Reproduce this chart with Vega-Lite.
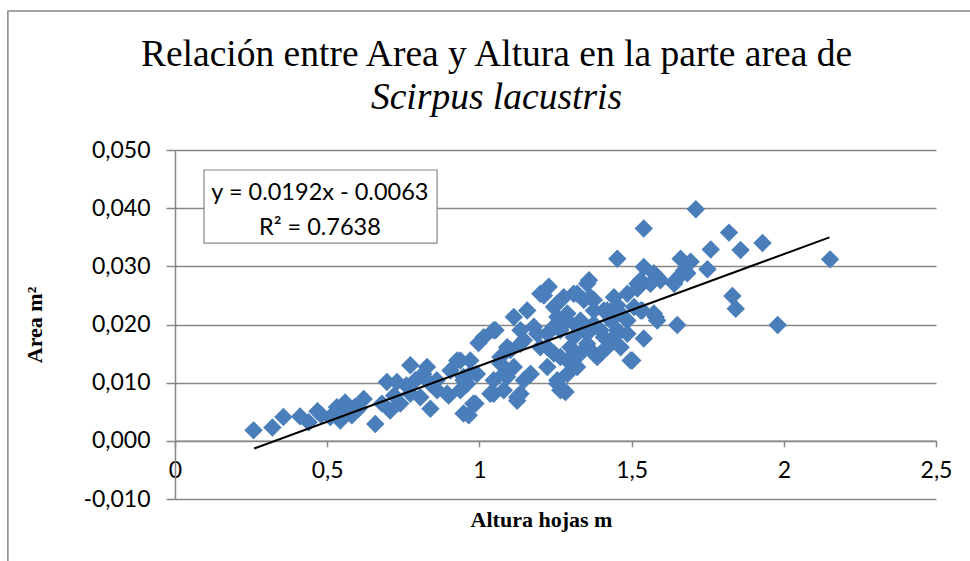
{
  "$schema": "https://vega.github.io/schema/vega-lite/v6.json",
  "width": 761,
  "height": 349,
  "autosize": "none",
  "padding": {"left": 175, "top": 150, "right": 34, "bottom": 62},
  "background": "white",
  "config": {
    "locale": {"number": {"decimal": ",", "thousands": ".", "grouping": [3], "currency": ["", " €"], "minus": "-"}},
    "view": {"stroke": null},
    "axis": {"labelFont": "Lato", "labelFontSize": 23, "labelColor": "#000000", "titleFont": "Liberation Serif", "titleFontSize": 22, "titleFontWeight": "bold", "titleColor": "#000000", "domainColor": "#878787", "tickColor": "#878787", "gridColor": "#878787", "domainWidth": 1.5, "tickWidth": 1.5, "gridWidth": 1.5}
  },
  "title": {
    "text": "Relación entre Area y Altura en la parte area de",
    "subtitle": "Scirpus lacustris",
    "font": "Liberation Serif",
    "fontSize": 37.5,
    "fontWeight": "normal",
    "color": "#000000",
    "subtitleFont": "serif",
    "subtitleFontSize": 37.5,
    "subtitleFontStyle": "italic",
    "subtitleFontWeight": "normal",
    "subtitleColor": "#000000",
    "subtitlePadding": 5,
    "anchor": "middle",
    "frame": "group",
    "dx": -59,
    "offset": -106
  },
  "datasets": {
    "pts": [
      {"h":0.258,"a":0.0018},{"h":0.32,"a":0.0023},{"h":0.356,"a":0.0041},{"h":0.411,"a":0.0042},{"h":0.439,"a":0.0032},{"h":0.468,"a":0.0051},{"h":0.51,"a":0.0041},{"h":0.532,"a":0.0058},{"h":0.559,"a":0.0066},{"h":0.543,"a":0.0035},{"h":0.581,"a":0.0044},{"h":0.62,"a":0.0072},{"h":0.603,"a":0.0055},{"h":0.658,"a":0.0029},{"h":0.68,"a":0.0064},{"h":0.696,"a":0.0101},{"h":0.729,"a":0.0101},{"h":0.707,"a":0.0052},{"h":0.74,"a":0.0064},{"h":0.773,"a":0.013},{"h":0.79,"a":0.0104},{"h":0.828,"a":0.0127},{"h":0.839,"a":0.0098},{"h":0.773,"a":0.0081},{"h":0.806,"a":0.0075},{"h":0.839,"a":0.0055},{"h":0.861,"a":0.0087},{"h":0.899,"a":0.0078},{"h":0.927,"a":0.0138},{"h":0.948,"a":0.0104},{"h":0.97,"a":0.0115},{"h":0.9375,"a":0.0087},{"h":0.965,"a":0.0044},{"h":0.987,"a":0.0064},{"h":0.997,"a":0.0168},
      {"h":0.48,"a":0.0045},{"h":0.57,"a":0.0052},{"h":0.72,"a":0.0078},{"h":0.59,"a":0.0058},{"h":0.86,"a":0.0104},{"h":0.815,"a":0.0115},{"h":0.76,"a":0.0095},
      {"h":1.228,"a":0.0265},{"h":1.212,"a":0.025},{"h":1.157,"a":0.0224},{"h":1.113,"a":0.0213},{"h":1.053,"a":0.019},{"h":1.014,"a":0.0178},{"h":1.256,"a":0.0236},{"h":1.277,"a":0.0247},{"h":0.97,"a":0.0138},{"h":0.992,"a":0.0115},{"h":0.96,"a":0.0098},{"h":0.948,"a":0.0047},{"h":0.98,"a":0.0064},{"h":1.047,"a":0.0081},{"h":1.08,"a":0.0115},{"h":1.124,"a":0.0069},{"h":1.135,"a":0.0081},{"h":1.168,"a":0.0115},{"h":1.069,"a":0.0144},{"h":1.102,"a":0.0156},{"h":1.146,"a":0.0173},{"h":1.19,"a":0.0184},{"h":1.244,"a":0.0196},{"h":1.256,"a":0.0104},{"h":1.277,"a":0.0087},{"h":1.223,"a":0.0161},{"h":1.266,"a":0.0144},
      {"h":1.2,"a":0.0253},{"h":1.354,"a":0.027},{"h":1.321,"a":0.0253},{"h":1.365,"a":0.0247},{"h":1.442,"a":0.0247},{"h":1.486,"a":0.0253},{"h":1.519,"a":0.027},{"h":1.245,"a":0.023},{"h":1.256,"a":0.0213},{"h":1.289,"a":0.0219},{"h":1.332,"a":0.0207},{"h":1.376,"a":0.0224},{"h":1.42,"a":0.0224},{"h":1.464,"a":0.0219},{"h":1.508,"a":0.023},{"h":1.047,"a":0.019},{"h":1.135,"a":0.019},{"h":1.179,"a":0.0196},{"h":1.223,"a":0.0184},{"h":1.266,"a":0.019},{"h":1.31,"a":0.0178},{"h":1.354,"a":0.0184},{"h":1.398,"a":0.019},{"h":1.442,"a":0.0178},{"h":1.486,"a":0.0184},{"h":1.091,"a":0.0161},{"h":1.135,"a":0.0167},{"h":1.2,"a":0.0161},{"h":1.245,"a":0.015},{"h":1.299,"a":0.0161},{"h":1.332,"a":0.015},{"h":1.376,"a":0.015},{"h":1.42,"a":0.0161},{"h":1.464,"a":0.0161},{"h":1.497,"a":0.0138},{"h":0.9375,"a":0.0138},{"h":1.069,"a":0.0133},{"h":1.113,"a":0.0127},{"h":1.168,"a":0.0115},{"h":1.223,"a":0.0127},{"h":1.289,"a":0.0138},{"h":1.31,"a":0.0127},{"h":1.387,"a":0.0144},{"h":0.905,"a":0.0121},{"h":0.948,"a":0.011},{"h":1.047,"a":0.0104},{"h":1.091,"a":0.011},{"h":1.146,"a":0.0104},{"h":1.256,"a":0.0098},{"h":1.266,"a":0.0087},{"h":0.894,"a":0.0081},{"h":1.036,"a":0.0081},{"h":1.08,"a":0.0087},{"h":1.124,"a":0.0075},
      {"h":1.711,"a":0.0398},{"h":1.54,"a":0.0365},{"h":1.453,"a":0.0313},{"h":1.661,"a":0.0313},{"h":1.694,"a":0.0308},{"h":1.54,"a":0.0299},{"h":1.573,"a":0.0288},{"h":1.595,"a":0.0276},{"h":1.53,"a":0.0276},{"h":1.562,"a":0.027},{"h":1.65,"a":0.0279},{"h":1.672,"a":0.0293},{"h":1.36,"a":0.0276},{"h":1.519,"a":0.0262},{"h":1.31,"a":0.0253},{"h":1.343,"a":0.0242},{"h":1.376,"a":0.0242},{"h":1.453,"a":0.0233},{"h":1.409,"a":0.0224},{"h":1.53,"a":0.0224},{"h":1.573,"a":0.0219},{"h":1.584,"a":0.0207},{"h":1.65,"a":0.0199},{"h":1.54,"a":0.0176},{"h":1.502,"a":0.0138},{"h":1.486,"a":0.0207},{"h":1.431,"a":0.0207},{"h":1.376,"a":0.0201},{"h":1.321,"a":0.0196},{"h":1.289,"a":0.0207},{"h":1.409,"a":0.0178},{"h":1.453,"a":0.019},{"h":1.354,"a":0.0167},{"h":1.398,"a":0.015},{"h":1.31,"a":0.0144},{"h":1.289,"a":0.0115},{"h":1.321,"a":0.0127},
      {"h":1.82,"a":0.0358},{"h":1.93,"a":0.034},{"h":1.76,"a":0.0329},{"h":1.858,"a":0.0328},{"h":2.152,"a":0.0312},{"h":1.749,"a":0.0295},{"h":1.831,"a":0.0249},{"h":1.842,"a":0.0227},{"h":1.98,"a":0.0199},{"h":1.283,"a":0.0084},{"h":1.579,"a":0.0213},{"h":1.535,"a":0.0224},{"h":1.584,"a":0.0282},{"h":1.683,"a":0.0288},{"h":1.64,"a":0.027}
    ],
    "trend": [{"h":0.26,"a":-0.00131},{"h":2.15,"a":0.03498}],
    "frame": [{"x1":-0.549,"x2":3.0,"y1":0.0739,"y2":-0.03}],
    "box": [{"x1":0.0953,"x2":0.861,"y1":0.04656,"y2":0.034}],
    "label": [{"h":0.476,"a":0.0426,"t":"y = 0.0192x - 0.0063"},{"h":0.476,"a":0.0366,"t":"R² = 0.7638"}]
  },
  "layer": [
    {
      "data": {"name": "frame"},
      "mark": {"type": "rect", "fill": null, "stroke": "#878787", "strokeWidth": 1.5},
      "encoding": {
        "x": {"field": "x1", "type": "quantitative", "scale": {"domain": [0, 2.5]}},
        "x2": {"field": "x2"},
        "y": {"field": "y1", "type": "quantitative", "scale": {"domain": [-0.01, 0.05]}},
        "y2": {"field": "y2"}
      }
    },
    {
      "data": {"name": "pts"},
      "mark": {"type": "point", "shape": "diamond", "filled": true, "size": 340, "color": "#4a7ebb", "opacity": 1},
      "encoding": {
        "x": {"field": "h", "type": "quantitative", "scale": {"domain": [0, 2.5], "nice": false, "zero": false},
          "axis": {"title": "Altura hojas m", "values": [0, 0.5, 1, 1.5, 2, 2.5], "format": ".1~f", "grid": false, "offset": -58.2, "tickSize": 6, "labelPadding": 13, "titlePadding": 27, "titleX": 366, "labelFlush": false}},
        "y": {"field": "a", "type": "quantitative", "scale": {"domain": [-0.01, 0.05], "nice": false, "zero": false},
          "axis": {"title": "Area m²", "values": [-0.01, 0, 0.01, 0.02, 0.03, 0.04, 0.05], "format": ".3f", "grid": true, "tickSize": 9, "labelPadding": 16, "titlePadding": 36}}
      }
    },
    {
      "data": {"name": "trend"},
      "mark": {"type": "line", "color": "#000000", "strokeWidth": 2},
      "encoding": {
        "x": {"field": "h", "type": "quantitative"},
        "y": {"field": "a", "type": "quantitative"}
      }
    },
    {
      "data": {"name": "box"},
      "mark": {"type": "rect", "fill": "#ffffff", "stroke": "#878787", "strokeWidth": 1.2},
      "encoding": {
        "x": {"field": "x1", "type": "quantitative"},
        "x2": {"field": "x2"},
        "y": {"field": "y1", "type": "quantitative"},
        "y2": {"field": "y2"}
      }
    },
    {
      "data": {"name": "label"},
      "mark": {"type": "text", "font": "Lato", "fontSize": 23.5, "color": "#000000", "align": "center", "baseline": "middle"},
      "encoding": {
        "x": {"field": "h", "type": "quantitative"},
        "y": {"field": "a", "type": "quantitative"},
        "text": {"field": "t"}
      }
    }
  ]
}
